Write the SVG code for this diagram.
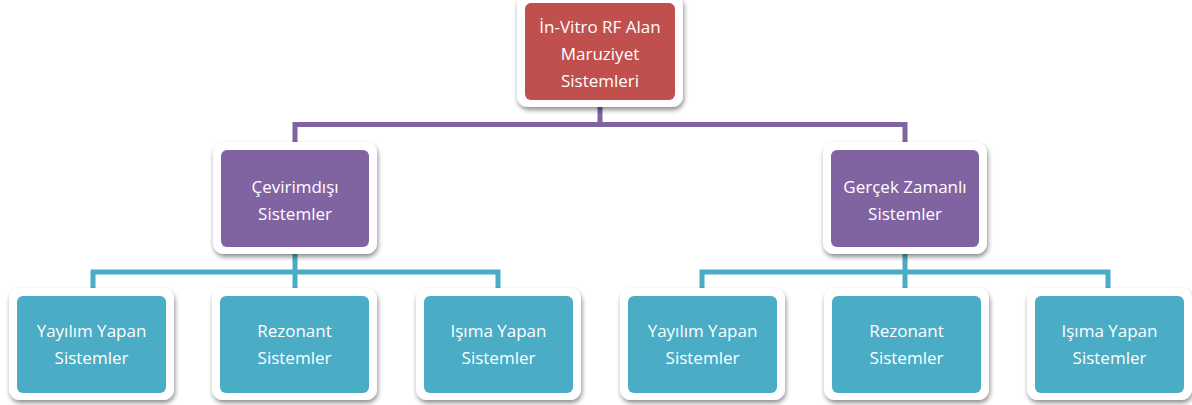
<svg xmlns="http://www.w3.org/2000/svg" width="1192" height="405" viewBox="0 0 1192 405">
<style>
.frame{fill:#fff;filter:url(#sh)}
.red{fill:#C0504D}
.pur{fill:#8064A2}
.blu{fill:#4BACC6}
text{font-family:"Open Sans",Lato,"Liberation Sans",sans-serif;font-size:17px;fill:#fff;text-anchor:middle}
.cp{stroke:#8064A2;stroke-width:5;fill:none}
.cb{stroke:#4BACC6;stroke-width:5;fill:none}
</style>
<defs>
<filter id="sh" x="-20%" y="-20%" width="140%" height="140%">
<feGaussianBlur in="SourceAlpha" stdDeviation="2.5"/>
<feOffset dx="1" dy="3" result="b"/>
<feComponentTransfer><feFuncA type="linear" slope="0.45"/></feComponentTransfer>
<feMerge><feMergeNode/><feMergeNode in="SourceGraphic"/></feMerge>
</filter>
</defs>
<rect width="1192" height="405" fill="#fff"/>
<g id="connectors">
<path class="cp" d="M600 100V124.5M295 142V124.5H905V142"/>
<path class="cb" d="M295 250V272H93V289M295 272H498V289M295 272V289"/>
<path class="cb" d="M905 250V272H702V289M905 272H1108V289M905 272V289"/>
</g>
<g id="root">
<rect class="frame" x="517" y="-6" width="166" height="113" rx="11"/>
<rect class="red" x="525" y="3" width="150" height="97" rx="6"/>
<text x="600" y="33">İn-Vitro RF Alan</text>
<text x="600" y="60">Maruziyet</text>
<text x="600" y="87">Sistemleri</text>
</g>
<g id="offline">
<rect class="frame" x="213" y="142" width="164" height="112" rx="11"/>
<rect class="pur" x="221" y="150" width="148" height="97" rx="6"/>
<text x="295" y="193">Çevirimdışı</text>
<text x="295" y="220">Sistemler</text>
</g>
<g id="realtime">
<rect class="frame" x="823" y="142" width="164" height="112" rx="11"/>
<rect class="pur" x="831" y="150" width="148" height="97" rx="6"/>
<text x="905" y="193">Gerçek Zamanlı</text>
<text x="905" y="220">Sistemler</text>
</g>
<g id="off-yayilim">
<rect class="frame" x="9" y="288" width="165" height="112" rx="11"/>
<rect class="blu" x="17" y="296" width="149" height="97" rx="6"/>
<text x="91.5" y="337">Yayılım Yapan</text>
<text x="91.5" y="364">Sistemler</text>
</g>
<g id="off-rezonant">
<rect class="frame" x="212" y="288" width="165" height="112" rx="11"/>
<rect class="blu" x="220" y="296" width="149" height="97" rx="6"/>
<text x="294.5" y="337">Rezonant</text>
<text x="294.5" y="364">Sistemler</text>
</g>
<g id="off-isima">
<rect class="frame" x="416" y="288" width="165" height="112" rx="11"/>
<rect class="blu" x="424" y="296" width="149" height="97" rx="6"/>
<text x="498.5" y="337">Işıma Yapan</text>
<text x="498.5" y="364">Sistemler</text>
</g>
<g id="rt-yayilim">
<rect class="frame" x="620" y="288" width="165" height="112" rx="11"/>
<rect class="blu" x="628" y="296" width="149" height="97" rx="6"/>
<text x="702.5" y="337">Yayılım Yapan</text>
<text x="702.5" y="364">Sistemler</text>
</g>
<g id="rt-rezonant">
<rect class="frame" x="824" y="288" width="165" height="112" rx="11"/>
<rect class="blu" x="832" y="296" width="149" height="97" rx="6"/>
<text x="906.5" y="337">Rezonant</text>
<text x="906.5" y="364">Sistemler</text>
</g>
<g id="rt-isima">
<rect class="frame" x="1027" y="288" width="165" height="112" rx="11"/>
<rect class="blu" x="1035" y="296" width="149" height="97" rx="6"/>
<text x="1109.5" y="337">Işıma Yapan</text>
<text x="1109.5" y="364">Sistemler</text>
</g>
</svg>
